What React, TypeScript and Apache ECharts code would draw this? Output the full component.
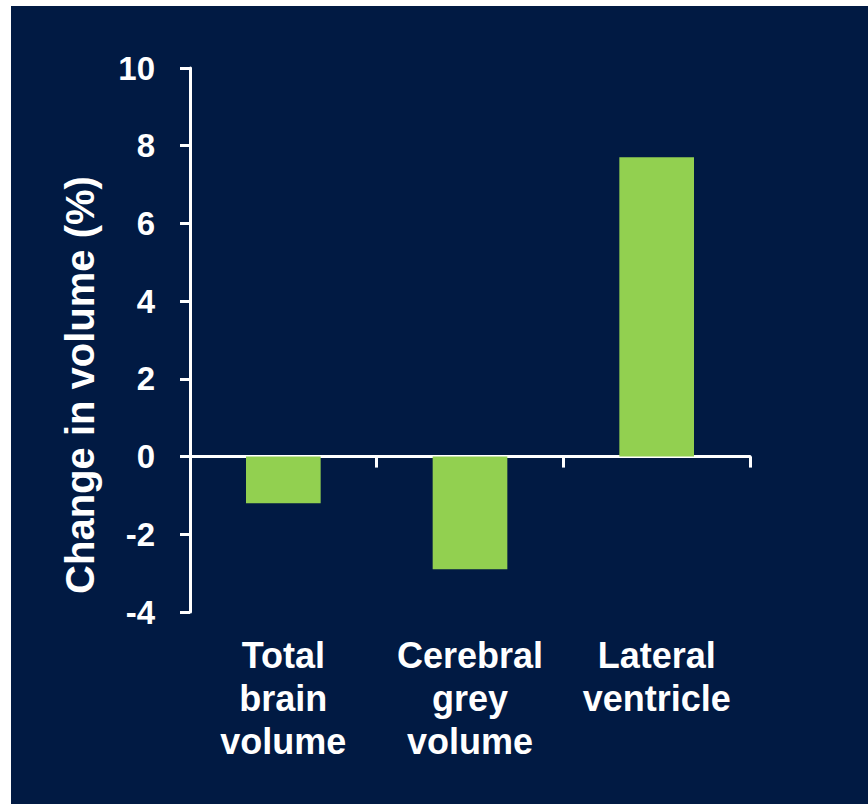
import React, { useEffect, useRef } from "react";
import * as echarts from "echarts";

const categories = ["Total\nbrain\nvolume", "Cerebral\ngrey\nvolume", "Lateral\nventricle"];
const values = [-1.2, -2.9, 7.7];
const yTicks = [-4, -2, 0, 2, 4, 6, 8, 10];

const NAVY = "#011a43";
const GREEN = "#92d050";
const FONT = "'Liberation Sans', Arial, sans-serif";

export default function App() {
  const ref = useRef<HTMLDivElement>(null);
  useEffect(() => {
    if (!ref.current) return;
    const chart = echarts.init(ref.current, undefined, { renderer: "svg" });
    chart.setOption({
      animation: false,
      backgroundColor: "#ffffff",
      graphic: [
        {
          type: "rect",
          z: -10,
          silent: true,
          shape: { x: 11, y: 6, width: 857, height: 798 },
          style: { fill: NAVY },
        },
      ],
      grid: { left: 190, right: 118, top: 68, bottom: 192, containLabel: false },
      xAxis: [
        {
          type: "category",
          data: categories,
          position: "bottom",
          axisLine: { show: true, onZero: true, lineStyle: { color: "#ffffff", width: 3 } },
          axisTick: { show: true, length: 11, alignWithLabel: false, lineStyle: { color: "#ffffff", width: 3 } },
          axisLabel: { show: false },
          splitLine: { show: false },
        },
        {
          type: "category",
          data: categories,
          position: "bottom",
          axisLine: { show: false, onZero: false },
          axisTick: { show: false },
          axisLabel: {
            show: true,
            margin: 22,
            color: "#ffffff",
            fontFamily: FONT,
            fontWeight: "bold",
            fontSize: 36,
            lineHeight: 43,
            interval: 0,
          },
          splitLine: { show: false },
        },
      ],
      yAxis: {
        type: "value",
        min: yTicks[0],
        max: yTicks[yTicks.length - 1],
        interval: 2,
        name: "Change in volume (%)",
        nameLocation: "middle",
        nameRotate: 90,
        nameGap: 90,
        nameTextStyle: {
          color: "#ffffff",
          fontFamily: FONT,
          fontWeight: "bold",
          fontSize: 40,
          padding: [0, 90, 0, 0],
        },
        axisLine: { show: true, onZero: false, lineStyle: { color: "#ffffff", width: 3 } },
        axisTick: { show: true, inside: false, length: 10, lineStyle: { color: "#ffffff", width: 3 } },
        axisLabel: { color: "#ffffff", fontFamily: FONT, fontWeight: "bold", fontSize: 33, margin: 35 },
        splitLine: { show: false },
      },
      series: [
        {
          type: "bar",
          data: values,
          barWidth: "40%",
          itemStyle: { color: GREEN },
          xAxisIndex: 0,
          z: 1,
        },
      ],
    });
    return () => chart.dispose();
  }, []);
  return (
    <div style={{ position: "fixed", left: 0, top: 0, width: 868, height: 804, background: "#fff" }}>
      <div ref={ref} style={{ width: 868, height: 804 }} />
    </div>
  );
}
